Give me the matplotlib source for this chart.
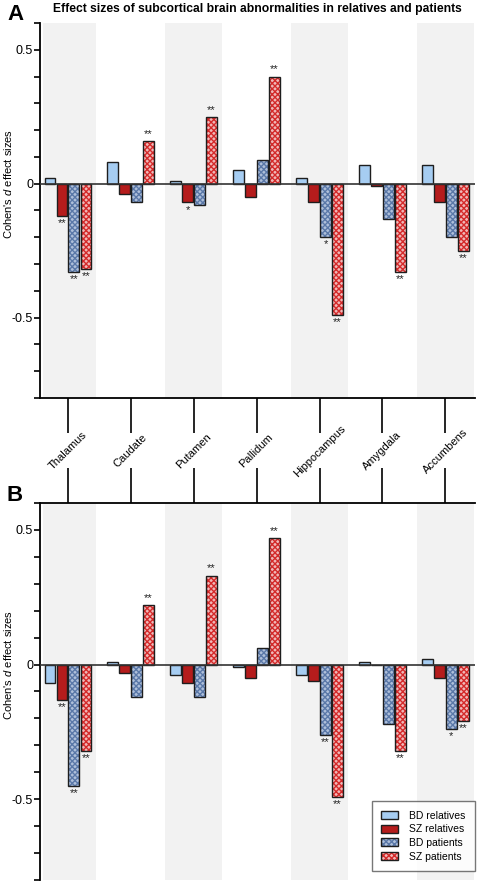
import numpy as np
import matplotlib
matplotlib.use("Agg")
import matplotlib.pyplot as plt
from matplotlib.ticker import MultipleLocator, FixedLocator, NullFormatter
from matplotlib.patches import Patch

plt.rcParams['font.family'] = ['Liberation Sans', 'DejaVu Sans']
plt.rcParams['mathtext.fontset'] = 'custom'
plt.rcParams['mathtext.it'] = 'Liberation Sans:italic'
plt.rcParams['mathtext.rm'] = 'Liberation Sans'
plt.rcParams['hatch.linewidth'] = 1.0

regions = ["Thalamus", "Caudate", "Putamen", "Pallidum", "Hippocampus", "Amygdala", "Accumbens"]
series = ["BD relatives", "SZ relatives", "BD patients", "SZ patients"]

# Panel A values
a_bd_rel = [0.02, 0.08, 0.01, 0.05, 0.02, 0.07, 0.07]
a_sz_rel = [-0.12, -0.04, -0.07, -0.05, -0.07, -0.01, -0.07]
a_bd_pat = [-0.33, -0.07, -0.08, 0.09, -0.20, -0.13, -0.20]
a_sz_pat = [-0.32, 0.16, 0.25, 0.40, -0.49, -0.33, -0.25]
a_star_bd_rel = ["", "", "", "", "", "", ""]
a_star_sz_rel = ["**", "", "*", "", "", "", ""]
a_star_bd_pat = ["**", "", "", "", "*", "", ""]
a_star_sz_pat = ["**", "**", "**", "**", "**", "**", "**"]

# Panel B values
b_bd_rel = [-0.07, 0.01, -0.04, -0.01, -0.04, 0.01, 0.02]
b_sz_rel = [-0.13, -0.03, -0.07, -0.05, -0.06, 0.0, -0.05]
b_bd_pat = [-0.45, -0.12, -0.12, 0.06, -0.26, -0.22, -0.24]
b_sz_pat = [-0.32, 0.22, 0.33, 0.47, -0.49, -0.32, -0.21]
b_star_bd_rel = ["", "", "", "", "", "", ""]
b_star_sz_rel = ["**", "", "", "", "", "", ""]
b_star_bd_pat = ["**", "", "", "", "**", "", "*"]
b_star_sz_pat = ["**", "**", "**", "**", "**", "**", "**"]

title = "Effect sizes of subcortical brain abnormalities in relatives and patients"
ylabel = "Cohen's $\\it{d}$ effect sizes"

# styles
faces = ['#a6cdf2', '#b51c1c', '#aebfda', '#f0b8b8']
hatchcols = [None, None, '#5a78a8', '#d42a2a']
edge = '#1e1e1e'
offsets = [-0.286, -0.095, 0.095, 0.286]
width = 0.165

fig = plt.figure(figsize=(4.81, 8.88), dpi=100)
axA = fig.add_axes([40/481, 1-398/888, 435/481, 375/888])
axB = fig.add_axes([40/481, 1-880/888, 435/481, 377/888])

x = np.arange(len(regions))


def draw(ax, vals, stars, top_axis):
    ax.set_xlim(-0.44, 6.47)
    ax.set_ylim(-0.8, 0.6)
    for i in range(0, len(regions), 2):
        ax.axvspan(max(i - 0.45, -0.39), i + 0.45, color='#f2f2f2', lw=0, zorder=0)
    ax.axhline(0, color='#333333', lw=1.2, zorder=3)
    for k in range(4):
        xs = x + offsets[k]
        if hatchcols[k] is None:
            ax.bar(xs, vals[k], width, color=faces[k], edgecolor=edge, lw=1.0, zorder=2)
        else:
            ax.bar(xs, vals[k], width, color=faces[k], edgecolor=hatchcols[k], hatch='xxxxxx', lw=0, zorder=2)
            ax.bar(xs, vals[k], width, fill=False, edgecolor=edge, lw=1.0, zorder=2.5)
        for xi, v, s in zip(xs, vals[k], stars[k]):
            if s:
                if v < 0:
                    ax.text(xi, v - 0.008, s, ha='center', va='top', fontsize=8, color='#222')
                else:
                    ax.text(xi, v + 0.008, s, ha='center', va='bottom', fontsize=8, color='#222')
    ax.yaxis.set_major_locator(FixedLocator([-0.5, 0, 0.5]))
    ax.yaxis.set_minor_locator(MultipleLocator(0.1))
    ax.set_yticklabels(['-0.5', '0', '0.5'])
    ax.tick_params(axis='y', which='both', length=4, width=1.2, pad=1, labelsize=9, direction='out')
    ax.spines['right'].set_visible(False)
    ax.spines['left'].set_linewidth(1.3)
    if top_axis:
        ax.spines['bottom'].set_visible(False)
        ax.spines['top'].set_linewidth(1.3)
        ax.xaxis.set_ticks_position('top')
    else:
        ax.spines['top'].set_visible(False)
        ax.spines['bottom'].set_linewidth(1.3)
        ax.xaxis.set_ticks_position('bottom')
    ax.xaxis.set_major_locator(FixedLocator(x))
    ax.xaxis.set_major_formatter(NullFormatter())
    ax.tick_params(axis='x', which='major', length=25.5, width=1.2,
                   labelbottom=False, labeltop=False)
    ax.set_ylabel(ylabel, fontsize=8, va='center')
    ax.yaxis.set_label_coords(-0.074, 0.571)


draw(axA, [a_bd_rel, a_sz_rel, a_bd_pat, a_sz_pat],
     [a_star_bd_rel, a_star_sz_rel, a_star_bd_pat, a_star_sz_pat], False)
draw(axB, [b_bd_rel, b_sz_rel, b_bd_pat, b_sz_pat],
     [b_star_bd_rel, b_star_sz_rel, b_star_bd_pat, b_star_sz_pat], True)

# category labels between panels
for i, name in enumerate(regions):
    xd = axA.transData.transform((i, 0))[0]
    xf = fig.transFigure.inverted().transform((xd, 0))[0]
    fig.text(xf, 1 - 451/888, name, rotation=45, ha='center', va='center',
             rotation_mode='anchor', fontsize=8)

fig.text(257/481, 1 - 9/888, title, ha='center', va='center', fontsize=8.7, fontweight='bold')
fig.text(7/481, 1 - 15/888, 'A', ha='left', va='center', fontsize=16, fontweight='bold')
fig.text(7/481, 1 - 495/888, 'B', ha='left', va='center', fontsize=16, fontweight='bold')

handles = []
for k in range(4):
    if hatchcols[k] is None:
        handles.append(Patch(facecolor=faces[k], edgecolor=edge, lw=1.0))
    else:
        handles.append((Patch(facecolor=faces[k], edgecolor=hatchcols[k], hatch='xxxxxx', lw=0),
                        Patch(fill=False, edgecolor=edge, lw=1.0)))
leg = axB.legend(handles, series, loc='lower right', bbox_to_anchor=(1.0, 0.024),
                 borderaxespad=0, fontsize=7.5, frameon=True, fancybox=False,
                 handlelength=1.6, handleheight=0.8, labelspacing=0.35,
                 borderpad=0.9, handletextpad=1.1)
leg.get_frame().set_edgecolor('#555555')
leg.get_frame().set_linewidth(1.0)

fig.savefig('out.png', dpi=100)
